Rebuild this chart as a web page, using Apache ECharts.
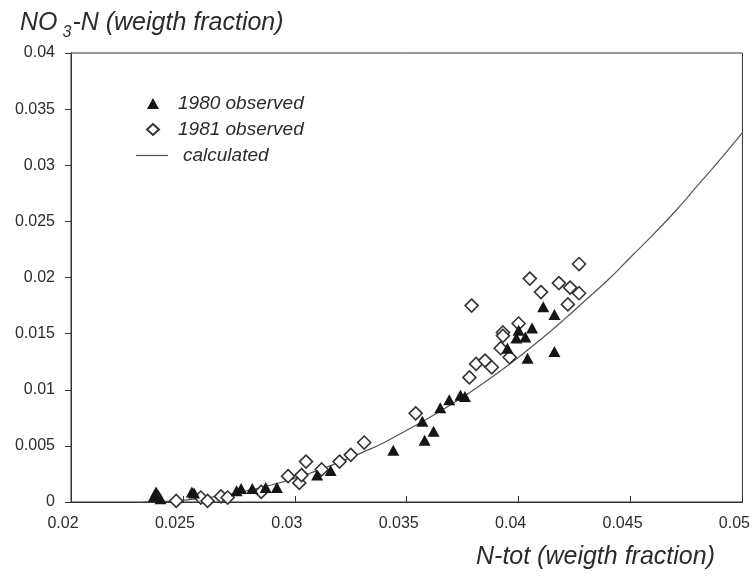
<!DOCTYPE html>
<html>
<head>
<meta charset="utf-8">
<script src="https://cdn.jsdelivr.net/npm/echarts@6/dist/echarts.min.js"></script>
<style>
  html, body { margin: 0; padding: 0; background: #fff; }
  #chart { width: 753px; height: 576px; }
</style>
</head>
<body>
<div id="chart"></div>
<script>
// 1980 observed (triangles)
var obs1980X = [0.0237, 0.0238, 0.0239, 0.0240, 0.0254, 0.0255,
                0.0274, 0.0276, 0.0281, 0.0287, 0.0292,
                0.0310, 0.0316, 0.0344, 0.0357, 0.0358, 0.0362,
                0.0365, 0.0369, 0.0374, 0.0376,
                0.0395, 0.0399, 0.0400, 0.0403, 0.0406, 0.0404,
                0.0411, 0.0416, 0.0416];
var obs1980Y = [0.0005, 0.0009, 0.0006, 0.0003, 0.0009, 0.0008,
                0.0010, 0.0012, 0.0012, 0.0013, 0.0013,
                0.0024, 0.0028, 0.0046, 0.0072, 0.0055, 0.0063,
                0.0084, 0.0091, 0.0095, 0.0094,
                0.0137, 0.0146, 0.0153, 0.0147, 0.0155, 0.0128,
                0.0174, 0.0167, 0.0134];
// 1981 observed (diamonds)
var obs1981X = [0.0247, 0.0258, 0.0261, 0.0267, 0.0270, 0.0285,
                0.0297, 0.0302, 0.0303, 0.0305, 0.0312, 0.0320,
                0.0325, 0.0331, 0.0354, 0.0378, 0.0381, 0.0385,
                0.0388, 0.0379, 0.0392, 0.0393, 0.0393, 0.0396,
                0.0400, 0.0405, 0.0410, 0.0418, 0.0423, 0.0427,
                0.0427, 0.0422];
var obs1981Y = [0.0001, 0.0004, 0.0001, 0.0005, 0.0004, 0.0009,
                0.0023, 0.0017, 0.0024, 0.0036, 0.0029, 0.0036,
                0.0042, 0.0053, 0.0079, 0.0111, 0.0123, 0.0126,
                0.0120, 0.0175, 0.0137, 0.0151, 0.0148, 0.0129,
                0.0159, 0.0199, 0.0187, 0.0195, 0.0191, 0.0186,
                0.0212, 0.0176];
// calculated curve
var calcX = [0.0232, 0.024, 0.025, 0.026, 0.027, 0.028, 0.029, 0.030, 0.031,
             0.032, 0.033, 0.034, 0.035, 0.036, 0.037, 0.038, 0.039, 0.040,
             0.041, 0.042, 0.043, 0.044, 0.045, 0.046, 0.047, 0.048, 0.049, 0.050];
var calcY = [0.0000, 0.00003, 0.00015, 0.00036, 0.00066, 0.00106, 0.00154, 0.0021, 0.0028,
             0.00355, 0.0044, 0.0053, 0.0064, 0.0075, 0.0087, 0.0100, 0.0114, 0.0129,
             0.0145, 0.0162, 0.0180, 0.0198, 0.0218, 0.0238, 0.0259, 0.0282, 0.0305, 0.0329];
var xTicks = ['0.02', '0.025', '0.03', '0.035', '0.04', '0.045', '0.05'];
var yTicks = ['0', '0.005', '0.01', '0.015', '0.02', '0.025', '0.03', '0.035', '0.04'];

function pairs(xs, ys) {
    var out = [];
    for (var i = 0; i < xs.length; i++) {
        out.push([xs[i], ys[i]]);
    }
    return out;
}

var font = '"Liberation Sans", Arial, sans-serif';
var ink = '#2b2b2b';
var legendText = { fontSize: 19, fontStyle: 'italic', color: ink, fontFamily: font };

var myChart = echarts.init(document.getElementById('chart'));
var option = {
    backgroundColor: '#fff',
    animation: false,
    textStyle: { fontFamily: font },
    title: [
        {
            text: '{a|NO}{s|3}{a|-N (weigth fraction)}',
            left: 20,
            top: 5,
            padding: 0,
            textStyle: {
                fontWeight: 'normal',
                rich: {
                    a: { fontSize: 25, fontStyle: 'italic', fontWeight: 'normal', color: ink, fontFamily: font },
                    s: { fontSize: 16, fontStyle: 'italic', fontWeight: 'normal', color: ink, fontFamily: font, padding: [20, 1, 0, 5] }
                }
            }
        },
        {
            text: 'N-tot (weigth fraction)',
            left: 476,
            top: 545,
            padding: 0,
            textStyle: { fontSize: 25, fontStyle: 'italic', fontWeight: 'normal', color: ink, fontFamily: font }
        }
    ],
    // markers keep their shape with a narrow icon box; the line key gets its own legend
    legend: [
        {
            orient: 'vertical',
            left: 141,
            top: 89,
            itemWidth: 12,
            itemHeight: 11,
            itemGap: 7,
            selectedMode: false,
            textStyle: Object.assign({ padding: [0, 0, 0, 14] }, legendText),
            data: ['1980 observed', '1981 observed']
        },
        {
            orient: 'vertical',
            left: 131,
            top: 141,
            itemWidth: 32,
            itemHeight: 11,
            selectedMode: false,
            textStyle: Object.assign({ padding: [0, 0, 0, 10] }, legendText),
            data: [{ name: 'calculated', icon: 'path://M0 0H32V1.2H0Z' }]
        }
    ],
    grid: {
        left: 71, right: 6, top: 53, bottom: 74,
        show: true, borderColor: '#333', borderWidth: 1
    },
    xAxis: {
        type: 'value',
        min: 0.02, max: 0.05, interval: 0.005,
        axisLine: { show: true, onZero: false, lineStyle: { color: '#333', width: 1 } },
        axisTick: { show: true, inside: true, length: 6, lineStyle: { color: '#333' } },
        splitLine: { show: false },
        axisLabel: {
            fontSize: 16, color: ink, margin: 14, padding: [0, 16, 0, 0],
            formatter: function (v) {
                var i = Math.round((v - 0.02) / 0.005);
                return xTicks[i];
            }
        }
    },
    yAxis: {
        type: 'value',
        min: 0, max: 0.04, interval: 0.005,
        axisLine: { show: true, lineStyle: { color: '#333', width: 1 } },
        axisTick: { show: true, inside: false, length: 6, lineStyle: { color: '#333' } },
        splitLine: { show: false },
        axisLabel: {
            fontSize: 16, color: ink, margin: 16,
            formatter: function (v) {
                var i = Math.round(v / 0.005);
                return yTicks[i];
            }
        }
    },
    series: [
        {
            name: 'calculated',
            type: 'line',
            data: pairs(calcX, calcY),
            symbol: 'none',
            smooth: true,
            lineStyle: { color: '#555', width: 1.2 },
            itemStyle: { color: '#555' },
            z: 1
        },
        {
            name: '1980 observed',
            type: 'scatter',
            data: pairs(obs1980X, obs1980Y),
            symbol: 'triangle',
            symbolSize: [12, 11],
            itemStyle: { color: '#151515', opacity: 1 },
            z: 3
        },
        {
            name: '1981 observed',
            type: 'scatter',
            data: pairs(obs1981X, obs1981Y),
            symbol: 'diamond',
            symbolSize: 13,
            itemStyle: { color: '#fff', borderColor: '#333', borderWidth: 1.6, opacity: 1 },
            z: 2
        }
    ]
};
myChart.setOption(option);
</script>
</body>
</html>
